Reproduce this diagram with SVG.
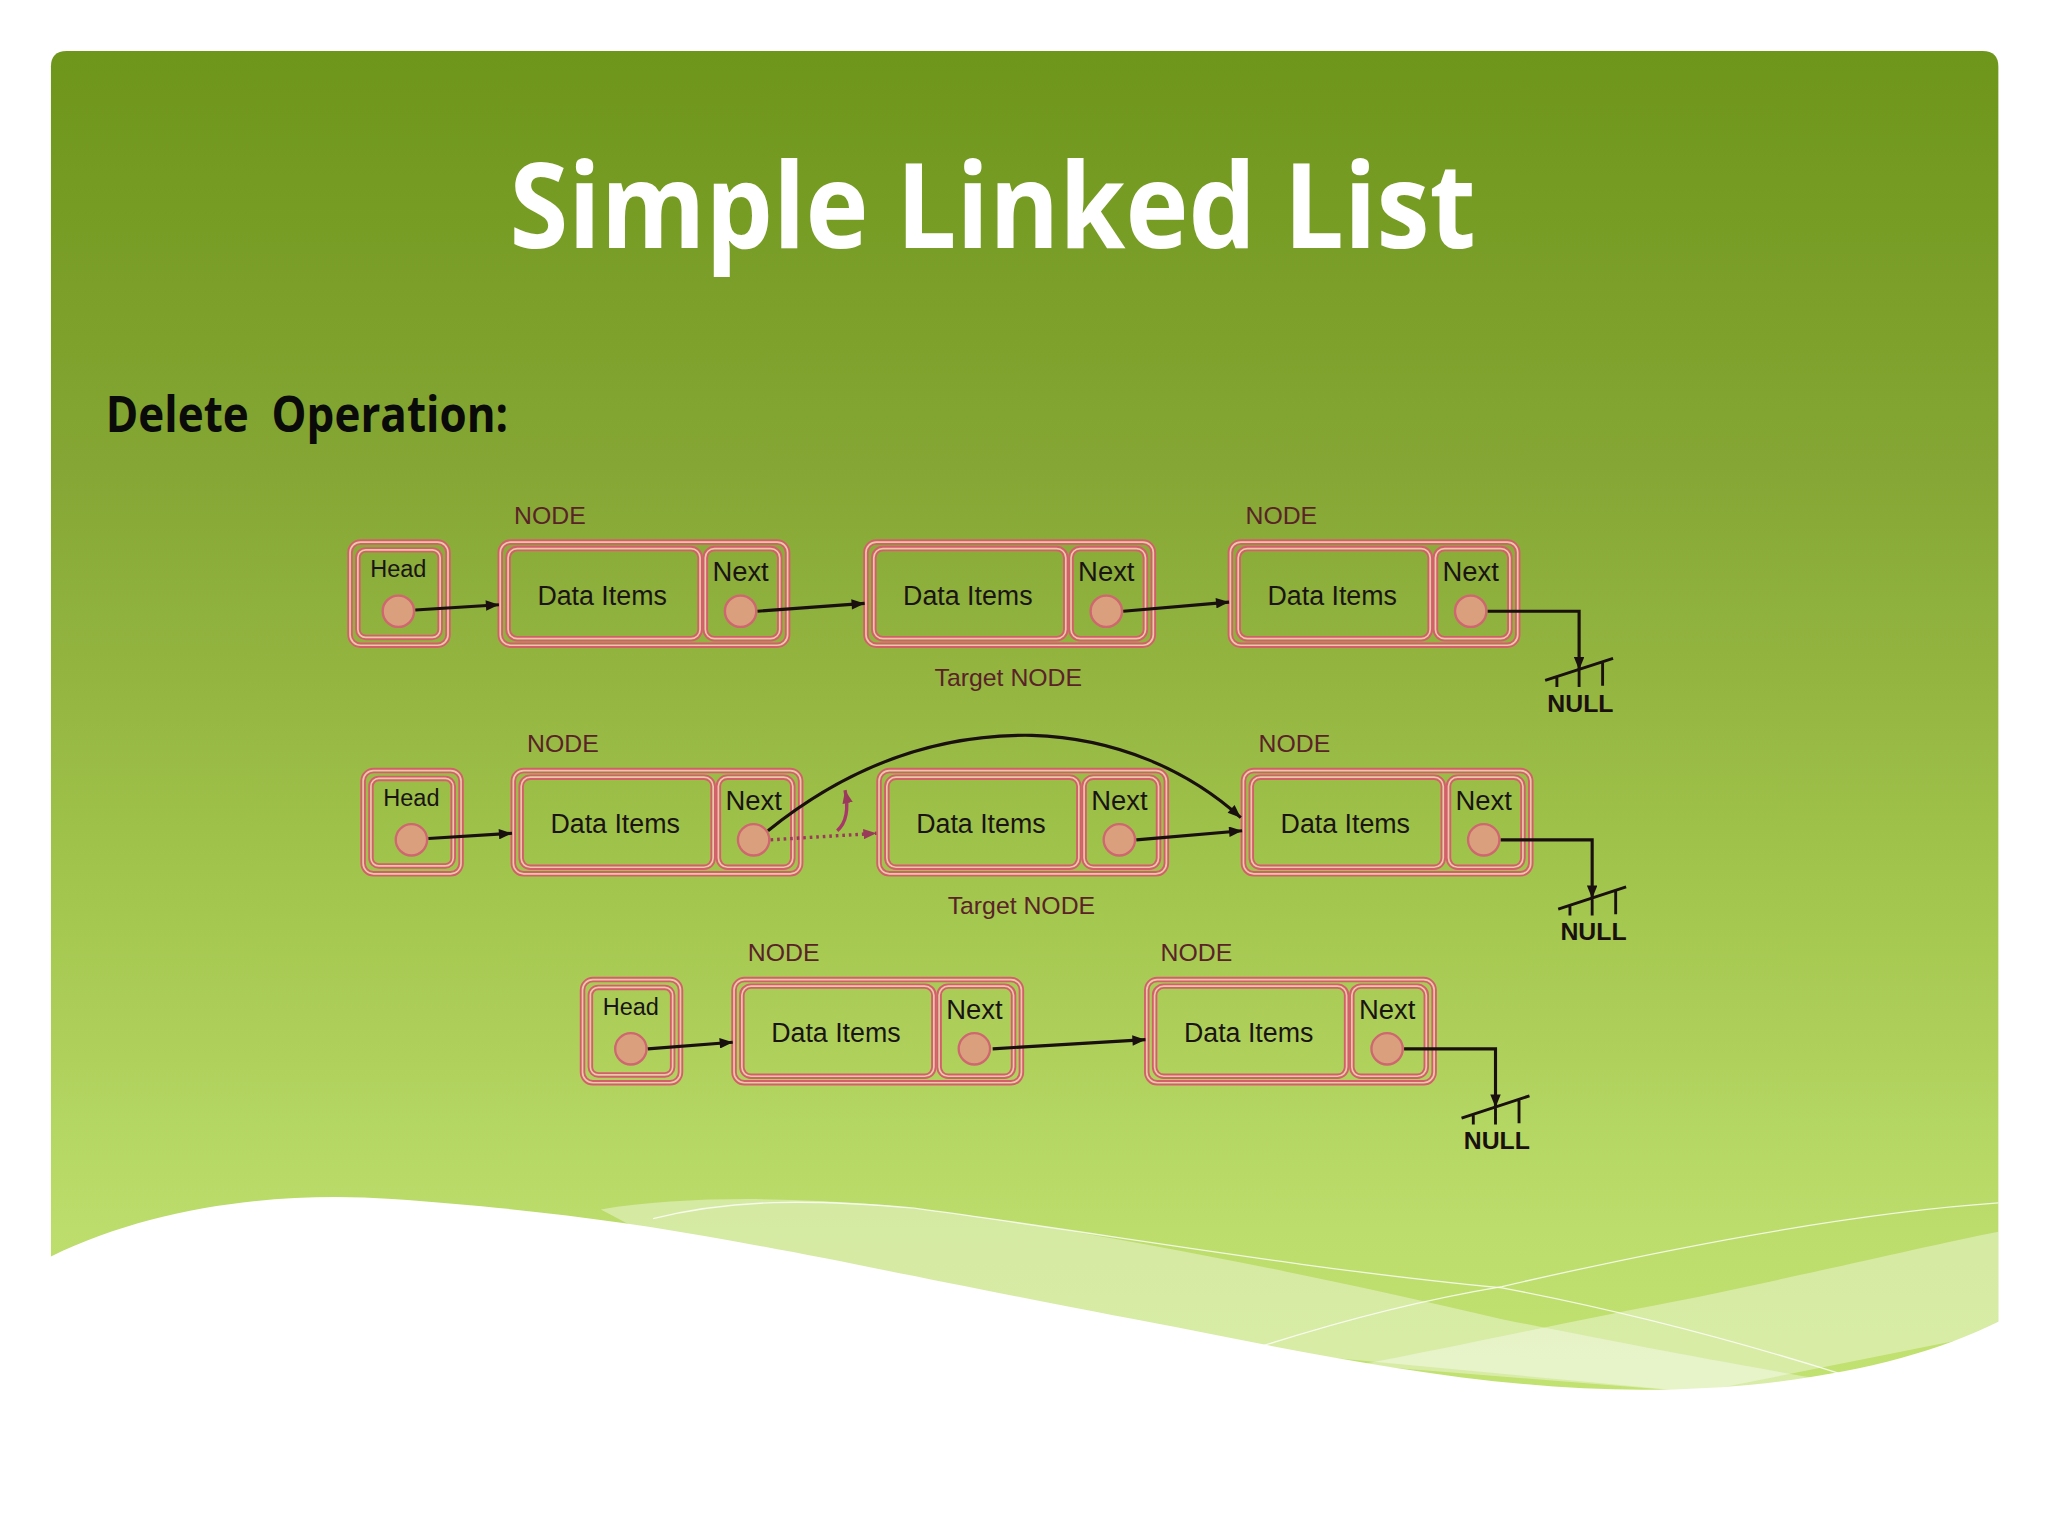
<svg xmlns="http://www.w3.org/2000/svg" xmlns:xlink="http://www.w3.org/1999/xlink" width="2048" height="1536" viewBox="0 0 2048 1536">
<defs>
<linearGradient id="bg" x1="0" y1="0" x2="0" y2="1" gradientUnits="objectBoundingBox">
<stop offset="0" stop-color="#6e961a"/>
<stop offset="0.3" stop-color="#85a634"/>
<stop offset="0.6" stop-color="#a2c54d"/>
<stop offset="0.85" stop-color="#bcdd6b"/>
<stop offset="1" stop-color="#c3e373"/>
</linearGradient>
<marker id="ah" viewBox="0 0 10 8" markerWidth="11" markerHeight="8" refX="10" refY="4" orient="auto" markerUnits="userSpaceOnUse">
<path d="M0,0 L10,4 L0,8 z" fill="#1a1010"/>
</marker>
<marker id="ahm" viewBox="0 0 10 8" markerWidth="10" markerHeight="8" refX="10" refY="4" orient="auto" markerUnits="userSpaceOnUse">
<path d="M0,0 L10,4 L0,8 z" fill="#9a3a5a"/>
</marker>
<g id="headShape">
<rect x="0" y="0" width="75" height="79" rx="8"/>
<rect x="6" y="6" width="63" height="67" rx="6"/>
</g>
<g id="nodeShape">
<rect x="0" y="0" width="220" height="79" rx="8"/>
<rect x="6" y="5" width="147" height="69" rx="7"/>
<rect x="157" y="5" width="57" height="69" rx="7"/>
</g>
<g id="nullSym">
<path d="M-26,53 L26,36 M-17,50 V58 M0,45 V58 M18,39 V57" fill="none" stroke="#1a1010" stroke-width="2.2"/>
<text x="1" y="77" class="nul">NULL</text>
</g>
</defs>
<style>
.frame { fill: none; stroke: #d45f6b; stroke-width: 4.2; }
.framec { fill: none; stroke: #e6caa8; stroke-width: 1.3; }
.ptr { fill: #daa07e; stroke: #cf6670; stroke-width: 1.8; }
.lbl { font-family: "Liberation Sans", Arial, sans-serif; fill: #1a1414; text-anchor: middle; }
.hd { font-size: 18px; }
.di { font-size: 20.5px; }
.nx { font-size: 21px; }
.nd { font-family: "Liberation Sans", Arial, sans-serif; font-size: 19px; fill: #5a2328; text-anchor: middle; }
.nul { font-family: "Liberation Sans", Arial, sans-serif; font-size: 19px; font-weight: bold; fill: #1a1010; text-anchor: middle; }
.arr { fill: none; stroke: #1a1010; stroke-width: 2.4; marker-end: url(#ah); }
.line { fill: none; stroke: #1a1010; stroke-width: 2.4; }
.dot { fill: none; stroke: #9a3a5a; stroke-width: 2.6; stroke-dasharray: 2 3; marker-end: url(#ahm); }
.curl { fill: none; stroke: #a8386a; stroke-width: 2.6; marker-end: url(#ahm); }
</style>
<rect x="0" y="0" width="2048" height="1536" fill="#ffffff"/>
<g transform="scale(1.306122)">
<g id="background">
<path d="M39,51 Q39,39 51,39 H1518 Q1530,39 1530,51 V1100 H39 Z" fill="url(#bg)"/>
<path d="M460,926 C520,916 600,916 680,923 C820,938 1000,975 1150,1010 C1250,1030 1330,1045 1395,1056 L1300,1066 L600,1000 Z" fill="#ffffff" fill-opacity="0.38"/>
<path d="M1040,1045 C1120,1030 1200,1012 1300,993 C1400,972 1470,955 1530,943 L1530,1020 L1300,1066 Z" fill="#ffffff" fill-opacity="0.38"/>
<path d="M30,966 L39,962 C120,922 220,912 300,918 C400,925 480,935 560,950 C650,966 760,990 900,1016 C1020,1040 1150,1066 1270,1064 C1380,1062 1470,1042 1530,1012 L1540,1008 L1540,1180 L30,1180 Z" fill="#ffffff"/>
<path d="M500,933 C560,918 620,918 700,925 C850,945 1000,972 1150,986 C1250,1005 1340,1030 1410,1052" fill="none" stroke="#ffffff" stroke-opacity="0.8" stroke-width="1"/>
<path d="M965,1031 C1030,1010 1090,995 1150,985 C1250,962 1400,930 1530,921" fill="none" stroke="#ffffff" stroke-opacity="0.8" stroke-width="1"/>
</g>
<g id="title">
<text x="760" y="190" text-anchor="middle" font-family="'Open Sans', 'Noto Sans', sans-serif" font-weight="700" font-size="91" fill="#ffffff" textLength="740" lengthAdjust="spacingAndGlyphs">Simple Linked List</text>
</g>
<g id="subtitle">
<text x="81" y="331" font-family="'Open Sans', 'Noto Sans', sans-serif" font-weight="700" font-size="39" fill="#0a0a0a" style="white-space:pre" textLength="308" lengthAdjust="spacingAndGlyphs">Delete  Operation:</text>
</g>
<g id="labels">
<text x="421" y="401" class="nd">NODE</text>
<text x="981" y="401" class="nd">NODE</text>
<text x="772" y="525" class="nd">Target NODE</text>
<text x="431" y="576" class="nd">NODE</text>
<text x="991" y="576" class="nd">NODE</text>
<text x="782" y="700" class="nd">Target NODE</text>
<text x="600" y="736" class="nd">NODE</text>
<text x="916" y="736" class="nd">NODE</text>
</g>
<!-- Row 1 -->
<g id="r1-head" transform="translate(268,415)">
<use xlink:href="#headShape" class="frame"/><use xlink:href="#headShape" class="framec"/>
<text x="37" y="27" class="lbl hd">Head</text>
<circle cx="37" cy="53" r="12" class="ptr"/>
</g>
<g id="r1-n1" transform="translate(383,415)">
<use xlink:href="#nodeShape" class="frame"/><use xlink:href="#nodeShape" class="framec"/>
<text x="78" y="48" class="lbl di">Data Items</text>
<text x="184" y="30" class="lbl nx">Next</text>
<circle cx="184" cy="53" r="12" class="ptr"/>
</g>
<g id="r1-n2" transform="translate(663,415)">
<use xlink:href="#nodeShape" class="frame"/><use xlink:href="#nodeShape" class="framec"/>
<text x="78" y="48" class="lbl di">Data Items</text>
<text x="184" y="30" class="lbl nx">Next</text>
<circle cx="184" cy="53" r="12" class="ptr"/>
</g>
<g id="r1-n3" transform="translate(942,415)">
<use xlink:href="#nodeShape" class="frame"/><use xlink:href="#nodeShape" class="framec"/>
<text x="78" y="48" class="lbl di">Data Items</text>
<text x="184" y="30" class="lbl nx">Next</text>
<circle cx="184" cy="53" r="12" class="ptr"/>
</g>
<g id="r1-null" transform="translate(1209,468)"><use xlink:href="#nullSym"/></g>
<!-- Row 2 -->
<g id="r2-head" transform="translate(278,590)">
<use xlink:href="#headShape" class="frame"/><use xlink:href="#headShape" class="framec"/>
<text x="37" y="27" class="lbl hd">Head</text>
<circle cx="37" cy="53" r="12" class="ptr"/>
</g>
<g id="r2-n1" transform="translate(393,590)">
<use xlink:href="#nodeShape" class="frame"/><use xlink:href="#nodeShape" class="framec"/>
<text x="78" y="48" class="lbl di">Data Items</text>
<text x="184" y="30" class="lbl nx">Next</text>
<circle cx="184" cy="53" r="12" class="ptr"/>
</g>
<g id="r2-n2" transform="translate(673,590)">
<use xlink:href="#nodeShape" class="frame"/><use xlink:href="#nodeShape" class="framec"/>
<text x="78" y="48" class="lbl di">Data Items</text>
<text x="184" y="30" class="lbl nx">Next</text>
<circle cx="184" cy="53" r="12" class="ptr"/>
</g>
<g id="r2-n3" transform="translate(952,590)">
<use xlink:href="#nodeShape" class="frame"/><use xlink:href="#nodeShape" class="framec"/>
<text x="78" y="48" class="lbl di">Data Items</text>
<text x="184" y="30" class="lbl nx">Next</text>
<circle cx="184" cy="53" r="12" class="ptr"/>
</g>
<g id="r2-null" transform="translate(1219,643)"><use xlink:href="#nullSym"/></g>
<!-- Row 3 -->
<g id="r3-head" transform="translate(446,750)">
<use xlink:href="#headShape" class="frame"/><use xlink:href="#headShape" class="framec"/>
<text x="37" y="27" class="lbl hd">Head</text>
<circle cx="37" cy="53" r="12" class="ptr"/>
</g>
<g id="r3-n1" transform="translate(562,750)">
<use xlink:href="#nodeShape" class="frame"/><use xlink:href="#nodeShape" class="framec"/>
<text x="78" y="48" class="lbl di">Data Items</text>
<text x="184" y="30" class="lbl nx">Next</text>
<circle cx="184" cy="53" r="12" class="ptr"/>
</g>
<g id="r3-n2" transform="translate(878,750)">
<use xlink:href="#nodeShape" class="frame"/><use xlink:href="#nodeShape" class="framec"/>
<text x="78" y="48" class="lbl di">Data Items</text>
<text x="184" y="30" class="lbl nx">Next</text>
<circle cx="184" cy="53" r="12" class="ptr"/>
</g>
<g id="r3-null" transform="translate(1145,803)"><use xlink:href="#nullSym"/></g>
<g id="connectors">
<path class="arr" d="M318,467 L382,463"/>
<path class="arr" d="M580,468 L662,462"/>
<path class="arr" d="M860,468 L941,461"/>
<path class="arr" d="M1139,468 H1209 V513"/>
<path class="arr" d="M328,642 L392,638"/>
<path class="dot" d="M590,643 L671,638"/>
<path class="curl" d="M641,636 C648,630 650,620 647,605"/>
<path class="arr" d="M588,636 C660,578 730,562 790,563 C855,565 910,590 950,626"/>
<path class="arr" d="M870,643 L951,636"/>
<path class="arr" d="M1149,643 H1219 V688"/>
<path class="arr" d="M496,803 L561,798"/>
<path class="arr" d="M760,803 L877,796"/>
<path class="arr" d="M1075,803 H1145 V848"/>
</g>
</g>
</svg>
